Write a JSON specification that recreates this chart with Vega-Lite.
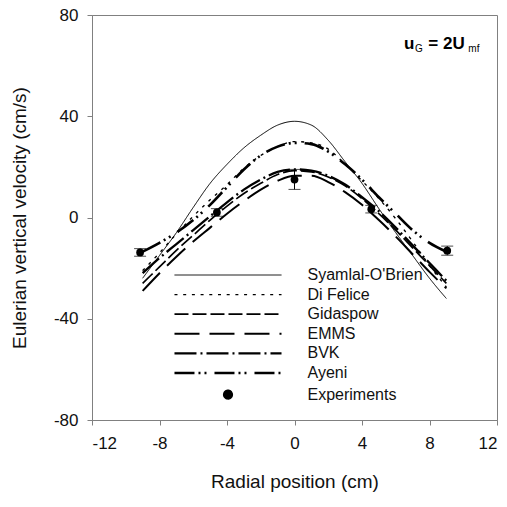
{
  "$schema": "https://vega.github.io/schema/vega-lite/v6.json",
  "width": 405,
  "height": 405,
  "autosize": "none",
  "padding": {"left": 92, "top": 15, "right": 10, "bottom": 87},
  "background": "white",
  "config": {
    "view": {"stroke": "#808080", "strokeWidth": 1},
    "font": "Liberation Sans",
    "axis": {
      "grid": false,
      "domainColor": "#808080",
      "tickColor": "#808080",
      "tickSize": 5,
      "labelFont": "Liberation Sans",
      "labelFontSize": 17,
      "labelColor": "#111111",
      "labelExpr": "'' + datum.value",
      "titleFont": "Liberation Sans",
      "titleFontSize": 19,
      "titleFontWeight": "normal",
      "titleColor": "#111111"
    }
  },
  "datasets": {
    "curves": [
      {"model": "Syamlal-O'Brien", "x": -9, "y": -24}, {"model": "Syamlal-O'Brien", "x": -8, "y": -15}, {"model": "Syamlal-O'Brien", "x": -7, "y": -6}, {"model": "Syamlal-O'Brien", "x": -6, "y": 4}, {"model": "Syamlal-O'Brien", "x": -5, "y": 13.5}, {"model": "Syamlal-O'Brien", "x": -4, "y": 21}, {"model": "Syamlal-O'Brien", "x": -3, "y": 27.5}, {"model": "Syamlal-O'Brien", "x": -2, "y": 32.5}, {"model": "Syamlal-O'Brien", "x": -1, "y": 36.5}, {"model": "Syamlal-O'Brien", "x": 0, "y": 38}, {"model": "Syamlal-O'Brien", "x": 1, "y": 36.5}, {"model": "Syamlal-O'Brien", "x": 2, "y": 30.5}, {"model": "Syamlal-O'Brien", "x": 3, "y": 22}, {"model": "Syamlal-O'Brien", "x": 4, "y": 13.5}, {"model": "Syamlal-O'Brien", "x": 5, "y": 3.5}, {"model": "Syamlal-O'Brien", "x": 6, "y": -6}, {"model": "Syamlal-O'Brien", "x": 7, "y": -15}, {"model": "Syamlal-O'Brien", "x": 8, "y": -24}, {"model": "Syamlal-O'Brien", "x": 9, "y": -32},
      {"model": "Di Felice", "x": -9, "y": -21}, {"model": "Di Felice", "x": -8, "y": -14}, {"model": "Di Felice", "x": -7, "y": -6.5}, {"model": "Di Felice", "x": -6, "y": 0.5}, {"model": "Di Felice", "x": -5, "y": 7}, {"model": "Di Felice", "x": -4, "y": 13}, {"model": "Di Felice", "x": -3, "y": 19.5}, {"model": "Di Felice", "x": -2, "y": 24.5}, {"model": "Di Felice", "x": -1, "y": 28}, {"model": "Di Felice", "x": 0, "y": 30}, {"model": "Di Felice", "x": 1, "y": 29.5}, {"model": "Di Felice", "x": 2, "y": 27}, {"model": "Di Felice", "x": 3, "y": 21}, {"model": "Di Felice", "x": 4, "y": 14.5}, {"model": "Di Felice", "x": 5, "y": 7.5}, {"model": "Di Felice", "x": 6, "y": -0.5}, {"model": "Di Felice", "x": 7, "y": -9.5}, {"model": "Di Felice", "x": 8, "y": -19}, {"model": "Di Felice", "x": 9, "y": -27.5},
      {"model": "Gidaspow", "x": -9, "y": -26}, {"model": "Gidaspow", "x": -8, "y": -19.5}, {"model": "Gidaspow", "x": -7, "y": -13}, {"model": "Gidaspow", "x": -6, "y": -7}, {"model": "Gidaspow", "x": -5, "y": -1}, {"model": "Gidaspow", "x": -4, "y": 4.5}, {"model": "Gidaspow", "x": -3, "y": 9.5}, {"model": "Gidaspow", "x": -2, "y": 13.5}, {"model": "Gidaspow", "x": -1, "y": 17}, {"model": "Gidaspow", "x": 0, "y": 18.5}, {"model": "Gidaspow", "x": 1, "y": 18}, {"model": "Gidaspow", "x": 2, "y": 16}, {"model": "Gidaspow", "x": 3, "y": 12.5}, {"model": "Gidaspow", "x": 4, "y": 7.5}, {"model": "Gidaspow", "x": 5, "y": 1.5}, {"model": "Gidaspow", "x": 6, "y": -5}, {"model": "Gidaspow", "x": 7, "y": -12}, {"model": "Gidaspow", "x": 8, "y": -19}, {"model": "Gidaspow", "x": 9, "y": -26},
      {"model": "EMMS", "x": -9, "y": -29}, {"model": "EMMS", "x": -8, "y": -22}, {"model": "EMMS", "x": -7, "y": -15.5}, {"model": "EMMS", "x": -6, "y": -9.5}, {"model": "EMMS", "x": -5, "y": -4}, {"model": "EMMS", "x": -4, "y": 1.5}, {"model": "EMMS", "x": -3, "y": 6.5}, {"model": "EMMS", "x": -2, "y": 11}, {"model": "EMMS", "x": -1, "y": 14.5}, {"model": "EMMS", "x": 0, "y": 16.5}, {"model": "EMMS", "x": 1, "y": 16.5}, {"model": "EMMS", "x": 2, "y": 14}, {"model": "EMMS", "x": 3, "y": 10}, {"model": "EMMS", "x": 4, "y": 5}, {"model": "EMMS", "x": 5, "y": -1}, {"model": "EMMS", "x": 6, "y": -7.5}, {"model": "EMMS", "x": 7, "y": -14.5}, {"model": "EMMS", "x": 8, "y": -21.5}, {"model": "EMMS", "x": 9, "y": -28},
      {"model": "BVK", "x": -9, "y": -22}, {"model": "BVK", "x": -8, "y": -16}, {"model": "BVK", "x": -7, "y": -10.5}, {"model": "BVK", "x": -6, "y": -5}, {"model": "BVK", "x": -5, "y": 0.5}, {"model": "BVK", "x": -4, "y": 6}, {"model": "BVK", "x": -3, "y": 11}, {"model": "BVK", "x": -2, "y": 15}, {"model": "BVK", "x": -1, "y": 18}, {"model": "BVK", "x": 0, "y": 19}, {"model": "BVK", "x": 1, "y": 18.5}, {"model": "BVK", "x": 2, "y": 16.5}, {"model": "BVK", "x": 3, "y": 13}, {"model": "BVK", "x": 4, "y": 8}, {"model": "BVK", "x": 5, "y": 2.5}, {"model": "BVK", "x": 6, "y": -4}, {"model": "BVK", "x": 7, "y": -11}, {"model": "BVK", "x": 8, "y": -18}, {"model": "BVK", "x": 9, "y": -25},
      {"model": "Ayeni", "x": -9, "y": -13.5}, {"model": "Ayeni", "x": -8, "y": -10}, {"model": "Ayeni", "x": -7, "y": -6}, {"model": "Ayeni", "x": -6, "y": -1}, {"model": "Ayeni", "x": -5, "y": 5}, {"model": "Ayeni", "x": -4, "y": 12}, {"model": "Ayeni", "x": -3, "y": 19}, {"model": "Ayeni", "x": -2, "y": 24.5}, {"model": "Ayeni", "x": -1, "y": 28}, {"model": "Ayeni", "x": 0, "y": 29.5}, {"model": "Ayeni", "x": 1, "y": 29}, {"model": "Ayeni", "x": 2, "y": 26}, {"model": "Ayeni", "x": 3, "y": 21}, {"model": "Ayeni", "x": 4, "y": 15}, {"model": "Ayeni", "x": 5, "y": 8}, {"model": "Ayeni", "x": 6, "y": 1.5}, {"model": "Ayeni", "x": 7, "y": -5}, {"model": "Ayeni", "x": 8, "y": -10}, {"model": "Ayeni", "x": 9, "y": -13.5}
    ],
    "exp": [
      {"x": -9.15, "y": -13.8, "lo": -15.3, "hi": -12.3},
      {"x": -4.6, "y": 2, "lo": 0.5, "hi": 3.5},
      {"x": 0, "y": 15, "lo": 11.1, "hi": 19},
      {"x": 4.55, "y": 3.3, "lo": 1.8, "hi": 4.8},
      {"x": 9.05, "y": -13.1, "lo": -14.9, "hi": -11.3}
    ],
    "labelBig": [
      {"x": 6.49, "y": 66.65, "t": "u"},
      {"x": 7.93, "y": 66.65, "t": "= 2U"}
    ],
    "labelSmall": [
      {"x": 7.14, "y": 65.3, "t": "G"},
      {"x": 10.3, "y": 65.3, "t": "mf"}
    ]
  },
  "encoding": {
    "x": {
      "field": "x", "type": "quantitative",
      "scale": {"domain": [-12, 12], "nice": false, "zero": false},
      "axis": {"values": [-12, -8, -4, 0, 4, 8, 12], "title": "Radial position (cm)", "labelPadding": 10, "titlePadding": 21}
    },
    "y": {
      "field": "y", "type": "quantitative",
      "scale": {"domain": [-80, 80], "nice": false, "zero": false},
      "axis": {"values": [-80, -40, 0, 40, 80], "title": "Eulerian vertical velocity (cm/s)", "labelPadding": 9, "titlePadding": 24}
    }
  },
  "layer": [
    {
      "data": {"name": "curves"},
      "mark": {"type": "line", "interpolate": "monotone", "color": "black"},
      "encoding": {
        "strokeDash": {
          "field": "model", "type": "nominal",
          "scale": {
            "domain": ["Syamlal-O'Brien", "Di Felice", "Gidaspow", "EMMS", "BVK", "Ayeni", "Experiments"],
            "range": [[1, 0], [3, 5.7], [14, 4], [25, 10], [22, 4, 2, 4], [20, 4, 2, 4, 2, 8], [1, 0]]
          },
          "legend": {
            "orient": "none",
            "legendX": 128,
            "legendY": 252,
            "title": null,
            "padding": 0,
            "symbolType": "M-9.73,0H9.73",
            "symbolSize": 121,
            "symbolStrokeColor": "black",
            "symbolFillColor": "transparent",
            "labelOffset": 71.5,
            "labelFont": "Liberation Sans",
            "labelFontSize": 16,
            "labelColor": "#111111",
            "labelLimit": 300,
            "rowPadding": 3.6,
            "encode": {
              "symbols": {
                "update": {
                  "shape": {"signal": "datum.value === 'Experiments' ? 'M-0.65,0A0.65,0.65,0,1,1,0.65,0A0.65,0.65,0,1,1,-0.65,0Z' : 'M-9.73,0H9.73'"},
                  "fill": {"signal": "datum.value === 'Experiments' ? 'black' : 'transparent'"},
                  "stroke": {"value": "black"},
                  "strokeWidth": {"signal": "datum.value === 'Di Felice' ? 3 : (datum.value === 'Experiments' || indexof(datum.value, 'Syamlal') === 0) ? 1 : 2"}
                }
              }
            }
          }
        },
        "strokeWidth": {
          "field": "model", "type": "nominal",
          "scale": {
            "domain": ["Syamlal-O'Brien", "Di Felice", "Gidaspow", "EMMS", "BVK", "Ayeni", "Experiments"],
            "range": [1, 3, 2, 2, 2, 2, 1]
          },
          "legend": null
        }
      }
    },
    {
      "data": {"name": "exp"},
      "mark": {"type": "rule", "color": "black", "strokeWidth": 1},
      "encoding": {"y": {"field": "lo", "type": "quantitative"}, "y2": {"field": "hi"}}
    },
    {
      "data": {"name": "exp"},
      "mark": {"type": "tick", "color": "black", "orient": "horizontal", "size": 12, "thickness": 1},
      "encoding": {"y": {"field": "lo", "type": "quantitative"}}
    },
    {
      "data": {"name": "exp"},
      "mark": {"type": "tick", "color": "black", "orient": "horizontal", "size": 12, "thickness": 1},
      "encoding": {"y": {"field": "hi", "type": "quantitative"}}
    },
    {
      "data": {"name": "exp"},
      "mark": {"type": "point", "shape": "circle", "filled": true, "color": "black", "size": 60, "opacity": 1}
    },
    {
      "data": {"name": "labelBig"},
      "mark": {"type": "text", "align": "left", "baseline": "alphabetic", "fontSize": 17, "fontWeight": "bold", "font": "Liberation Sans", "color": "black"},
      "encoding": {"text": {"field": "t"}}
    },
    {
      "data": {"name": "labelSmall"},
      "mark": {"type": "text", "align": "left", "baseline": "alphabetic", "fontSize": 10, "font": "Liberation Sans", "color": "black"},
      "encoding": {"text": {"field": "t"}}
    }
  ]
}
